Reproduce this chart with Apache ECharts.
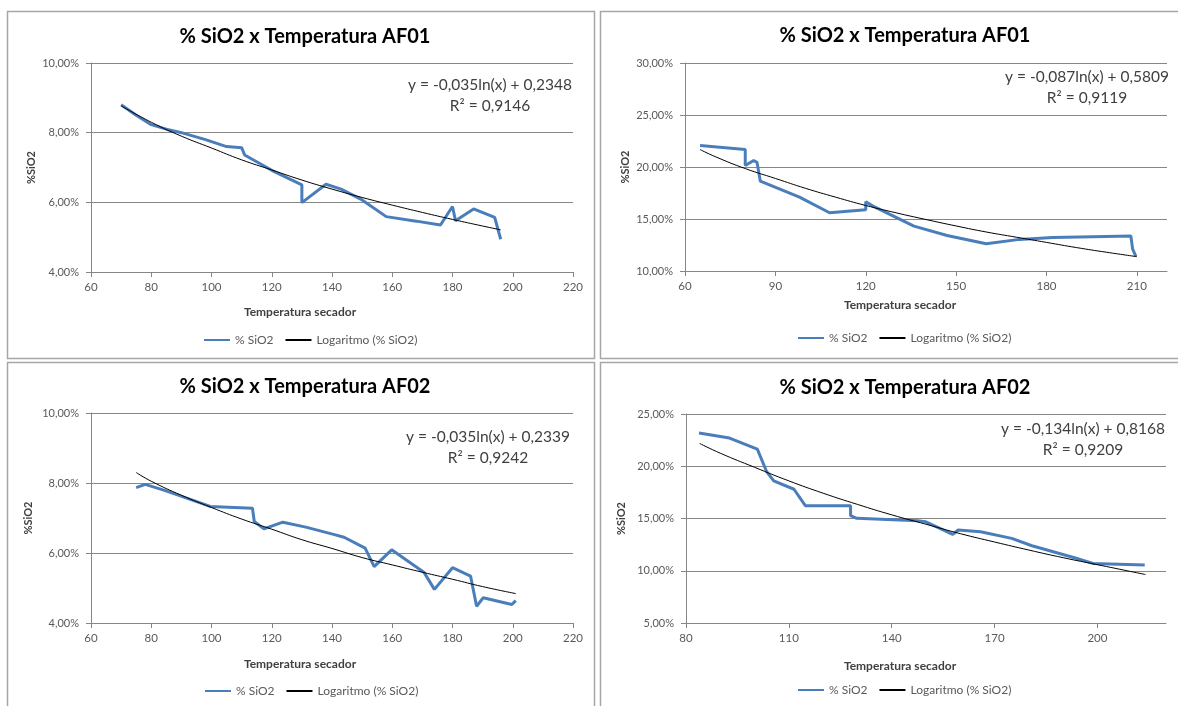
<!DOCTYPE html>
<html>
<head>
<meta charset="utf-8">
<script src="https://cdn.jsdelivr.net/npm/echarts@6/dist/echarts.min.js"></script>
<style>
  body { margin: 0; background: #fff; }
  #chart { width: 1178px; height: 706px; }
</style>
</head>
<body>
<div id="chart"></div>
<script>
// AF01 (top left)
const temp1 = [70, 75, 80, 85, 90, 98, 105, 110, 111, 120, 130, 130, 138, 143, 150, 158, 168, 176, 180, 181, 187, 194, 196];
const sio2_1 = [8.80, 8.50, 8.23, 8.10, 8.00, 7.80, 7.60, 7.57, 7.36, 6.92, 6.50, 5.99, 6.52, 6.38, 6.07, 5.59, 5.46, 5.35, 5.88, 5.47, 5.81, 5.57, 4.94];
const trendTemp1 = [70, 80, 90, 100, 110, 120, 130, 140, 150, 160, 170, 180, 190, 196];
const trend1 = [8.77, 8.30, 7.90, 7.56, 7.22, 6.93, 6.64, 6.38, 6.14, 5.92, 5.71, 5.51, 5.32, 5.21];
const xRange1 = [60, 220, 20];
const yRange1 = [4, 10, 2];
const eq1 = ['y = -0,035ln(x) + 0,2348', 'R² = 0,9146'];

// AF01 (top right)
const temp2 = [65, 80, 80, 82.8, 83.9, 85, 98, 108, 120, 120, 122.4, 136, 147, 160, 171, 182, 204, 208, 208.6, 209.7];
const sio2_2 = [22.06, 21.68, 20.14, 20.62, 20.46, 18.64, 17.10, 15.60, 15.90, 16.66, 16.24, 14.32, 13.42, 12.62, 13.04, 13.23, 13.34, 13.36, 12.10, 11.38];
const trendTemp2 = [65, 70, 80, 90, 100, 110, 120, 130, 140, 150, 160, 170, 180, 190, 200, 210];
const trend2 = [21.68, 21.00, 19.85, 18.90, 17.95, 17.10, 16.30, 15.60, 14.95, 14.33, 13.75, 13.25, 12.75, 12.25, 11.80, 11.38];
const xRange2 = [60, 220, 30];
const yRange2 = [10, 30, 5];
const eq2 = ['y = -0,087ln(x) + 0,5809', 'R² = 0,9119'];

// AF02 (bottom left)
const temp3 = [75, 78, 84.4, 99.6, 113.6, 114.2, 117.4, 123.7, 131.3, 140.2, 144, 151, 154, 159.8, 170.6, 174, 180, 186, 188, 190.2, 199.7, 201];
const sio2_3 = [7.87, 7.96, 7.79, 7.33, 7.28, 6.90, 6.69, 6.88, 6.74, 6.54, 6.45, 6.14, 5.61, 6.09, 5.44, 4.96, 5.58, 5.34, 4.48, 4.72, 4.53, 4.64];
const trendTemp3 = [75, 80, 90, 100, 110, 120, 130, 140, 150, 160, 170, 180, 190, 201];
const trend3 = [8.30, 8.05, 7.65, 7.30, 6.97, 6.68, 6.38, 6.13, 5.87, 5.66, 5.45, 5.25, 5.04, 4.84];
const xRange3 = [60, 220, 20];
const yRange3 = [4, 10, 2];
const eq3 = ['y = -0,035ln(x) + 0,2339', 'R² = 0,9242'];

// AF02 (bottom right)
const temp4 = [83.8, 92.7, 100.8, 103.5, 105.6, 111.5, 114.8, 128, 128, 129.8, 147.6, 149.8, 157.8, 159.4, 165.9, 175, 180.9, 193.3, 198.7, 213.8];
const sio2_4 = [23.18, 22.70, 21.64, 19.50, 18.60, 17.80, 16.23, 16.23, 15.27, 15.02, 14.79, 14.70, 13.48, 13.90, 13.74, 13.10, 12.39, 11.24, 10.70, 10.54];
const trendTemp4 = [84, 90, 100, 110, 120, 130, 140, 150, 160, 170, 180, 190, 200, 214];
const trend4 = [22.18, 21.25, 19.90, 18.60, 17.42, 16.35, 15.35, 14.45, 13.55, 12.75, 11.98, 11.25, 10.58, 9.64];
const xRange4 = [80, 220, 30];
const yRange4 = [5, 25, 5];
const eq4 = ['y = -0,134ln(x) + 0,8168', 'R² = 0,9209'];

const titles = ['% SiO2 x Temperatura AF01', '% SiO2 x Temperatura AF01', '% SiO2 x Temperatura AF02', '% SiO2 x Temperatura AF02'];

const panels = [
  { temp: temp1, sio2: sio2_1, tTemp: trendTemp1, trend: trend1, xr: xRange1, yr: yRange1, eq: eq1 },
  { temp: temp2, sio2: sio2_2, tTemp: trendTemp2, trend: trend2, xr: xRange2, yr: yRange2, eq: eq2 },
  { temp: temp3, sio2: sio2_3, tTemp: trendTemp3, trend: trend3, xr: xRange3, yr: yRange3, eq: eq3 },
  { temp: temp4, sio2: sio2_4, tTemp: trendTemp4, trend: trend4, xr: xRange4, yr: yRange4, eq: eq4 }
];

// pixel layout of each excel chart box
const layout = [
  { box: [7.5, 11.5, 587, 347], grid: [91, 63, 482, 209], cx: 300, titleTop: 22, eqX: 490, eqY: 85, xNameY: 312, legLeft: 203, legTop: 334, nameGap: 54 },
  { box: [600.5, 11.5, 620, 347], grid: [685, 63, 482, 208], cx: 900, titleTop: 21, eqX: 1087, eqY: 77, xNameY: 305, legLeft: 797, legTop: 332, nameGap: 54 },
  { box: [7.5, 362.5, 587, 400], grid: [91, 413, 482, 210], cx: 300, titleTop: 372, eqX: 488, eqY: 437, xNameY: 664, legLeft: 204, legTop: 685, nameGap: 57 },
  { box: [600.5, 362.5, 620, 400], grid: [686, 414, 480, 209], cx: 900, titleTop: 373, eqX: 1083, eqY: 429, xNameY: 666, legLeft: 797, legTop: 684, nameGap: 59 }
];

const FONT = 'Lato, "Open Sans", sans-serif';
const pct = v => v.toFixed(2).replace('.', ',') + '%';

const option = {
  animation: false,
  textStyle: { fontFamily: FONT },
  title: [], legend: [], grid: [], xAxis: [], yAxis: [], series: [], graphic: []
};

panels.forEach((p, i) => {
  const L = layout[i];
  option.graphic.push({
    type: 'rect', silent: true, z: -10,
    shape: { x: L.box[0], y: L.box[1], width: L.box[2], height: L.box[3] },
    style: { fill: '#fff', stroke: '#a6a6a6', lineWidth: 1.5 }
  });
  option.title.push({
    text: titles[i], left: L.cx, top: L.titleTop, textAlign: 'center',
    textStyle: { fontFamily: FONT, fontSize: 20, fontWeight: 'bold', color: '#000' }
  });
  option.grid.push({ left: L.grid[0], top: L.grid[1], width: L.grid[2], height: L.grid[3] });
  option.xAxis.push({
    gridIndex: i, type: 'value', min: p.xr[0], max: p.xr[1], interval: p.xr[2],
    axisLine: { show: true, lineStyle: { color: '#868686' } },
    axisTick: { show: true, length: 5, lineStyle: { color: '#868686' } },
    axisLabel: {
      color: '#595959', fontSize: 11.5, margin: 9,
      showMaxLabel: (p.xr[1] - p.xr[0]) % p.xr[2] === 0
    },
    splitLine: { show: false }
  });
  option.yAxis.push({
    gridIndex: i, type: 'value', min: p.yr[0], max: p.yr[1], interval: p.yr[2],
    name: '%SiO2', nameLocation: 'middle', nameGap: L.nameGap,
    nameTextStyle: { fontFamily: FONT, fontWeight: 'bold', fontSize: 11, color: '#404040' },
    axisLine: { show: true, lineStyle: { color: '#868686' } },
    axisTick: { show: true, length: 5, lineStyle: { color: '#868686' } },
    axisLabel: { color: '#595959', fontSize: 11, margin: 12, formatter: pct },
    splitLine: { show: true, lineStyle: { color: '#868686', width: 1 } }
  });
  option.series.push({
    name: '% SiO2', type: 'line', xAxisIndex: i, yAxisIndex: i,
    data: p.temp.map((t, k) => [t, p.sio2[k]]),
    symbol: 'none', z: 2,
    lineStyle: { color: '#4a7ebb', width: 3 }, itemStyle: { color: '#4a7ebb' }
  });
  option.series.push({
    name: 'Logaritmo (% SiO2)', type: 'line', xAxisIndex: i, yAxisIndex: i,
    data: p.tTemp.map((t, k) => [t, p.trend[k]]),
    symbol: 'none', smooth: true, z: 3,
    lineStyle: { color: '#000', width: 1 }, itemStyle: { color: '#000' }
  });
  option.legend.push({
    data: ['% SiO2', 'Logaritmo (% SiO2)'], left: L.legLeft, top: L.legTop, padding: 0,
    itemWidth: 26, itemHeight: 14, itemGap: 11, selectedMode: false,
    itemStyle: { opacity: 0 },
    textStyle: { fontFamily: FONT, fontSize: 12, color: '#595959' }
  });
  option.graphic.push({
    type: 'text', silent: true,
    style: { text: 'Temperatura secador', x: L.cx, y: L.xNameY, textAlign: 'center', textVerticalAlign: 'middle',
      font: 'bold 12px ' + FONT, fill: '#404040' }
  });
  option.graphic.push({
    type: 'text', silent: true,
    style: { text: p.eq[0], x: L.eqX, y: L.eqY, textAlign: 'center', textVerticalAlign: 'middle',
      font: '15.5px ' + FONT, fill: '#404040' }
  });
  option.graphic.push({
    type: 'text', silent: true,
    style: { text: p.eq[1], x: L.eqX, y: L.eqY + 21, textAlign: 'center', textVerticalAlign: 'middle',
      font: '15.5px ' + FONT, fill: '#404040' }
  });
});

const chart = echarts.init(document.getElementById('chart'));
chart.setOption(option);
</script>
</body>
</html>
